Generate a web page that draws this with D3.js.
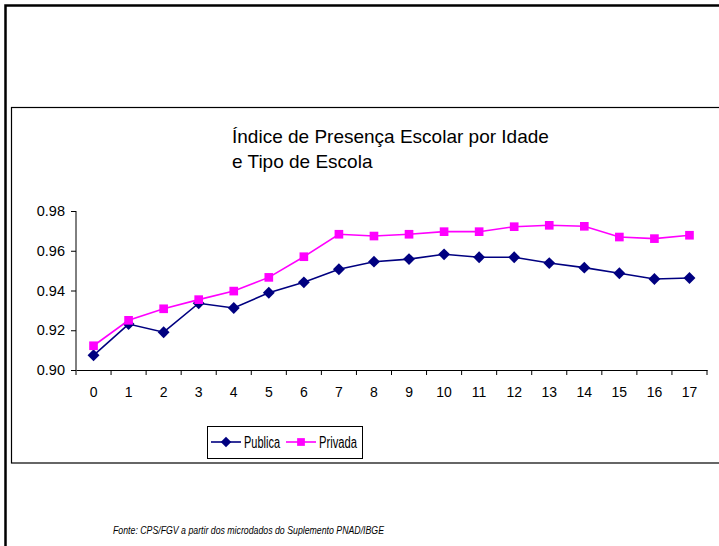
<!DOCTYPE html>
<html>
<head>
<meta charset="utf-8">
<script src="https://cdn.jsdelivr.net/npm/d3@7"></script>
<style>
  body { margin: 0; background: #fff; }
  svg { display: block; font-family: "Liberation Sans", Arial, sans-serif; }
</style>
</head>
<body>
<svg width="719" height="546"></svg>
<script>
// data
var idades = ["0","1","2","3","4","5","6","7","8","9","10","11","12","13","14","15","16","17"];
var publica = [0.9074, 0.9231, 0.9190, 0.9336, 0.9312, 0.9389, 0.9441, 0.9507, 0.9545, 0.9558,
               0.9582, 0.9567, 0.9567, 0.9538, 0.9515, 0.9487, 0.9458, 0.9463];
var privada = [0.9122, 0.9250, 0.9308, 0.9354, 0.9397, 0.9466, 0.9570, 0.9683, 0.9674, 0.9683,
               0.9696, 0.9696, 0.9721, 0.9728, 0.9723, 0.9669, 0.9661, 0.9678];
var yTicks = [0.90, 0.92, 0.94, 0.96, 0.98];

var series = [
    {name: "Publica", values: publica, color: "#000080", shape: d3.symbolDiamond2, len: 36},
    {name: "Privada", values: privada, color: "#FF00FF", shape: d3.symbolSquare, len: 38}
];

var svg = d3.select("svg");

// outer frame (runs off the page on right/bottom)
svg.append("rect")
    .attr("x", 5.5).attr("y", 5.5)
    .attr("width", 740).attr("height", 560)
    .attr("fill", "none").attr("stroke", "#000").attr("stroke-width", 2.5);

// chart box
svg.append("rect")
    .attr("x", 11.5).attr("y", 107.5)
    .attr("width", 730).attr("height", 355.5)
    .attr("fill", "#fff").attr("stroke", "#000").attr("stroke-width", 1.2);

var margin = {left: 76, top: 211, right: 12, bottom: 176};
var width = 707 - margin.left,
    height = 370 - margin.top;

var x = d3.scaleBand().domain(idades).range([0, width]);
var y = d3.scaleLinear().domain([0.90, 0.98]).range([height, 0]);

var chart = svg.append("g")
    .attr("transform", "translate(" + margin.left + "," + margin.top + ")");

// x axis
var xAxis = chart.append("g")
    .attr("transform", "translate(0," + height + ")")
    .call(d3.axisBottom(x).tickSize(0).tickPadding(17));
xAxis.select(".domain").attr("stroke", "#000").attr("stroke-width", 1);
xAxis.selectAll("text").style("font-size", "14px").attr("fill", "#000")
    .style("font-family", "'Liberation Sans', Arial, sans-serif");

// x ticks between categories
chart.append("g").selectAll("line")
    .data(idades.concat(["end"]))
    .enter().append("line")
    .attr("x1", function(d, i) { return i * x.step(); })
    .attr("x2", function(d, i) { return i * x.step(); })
    .attr("y1", height).attr("y2", height + 5)
    .attr("stroke", "#000");

// y axis
var yAxis = chart.append("g")
    .call(d3.axisLeft(y).tickValues(yTicks).tickFormat(d3.format(".2f")).tickSize(5).tickPadding(6));
yAxis.select(".domain").attr("stroke", "#000").attr("d", "M0," + height + "V0");
yAxis.selectAll("line").attr("stroke", "#000");
yAxis.selectAll("text").style("font-size", "14.5px").attr("fill", "#000")
    .style("font-family", "'Liberation Sans', Arial, sans-serif");

// lines and markers
var line = d3.line()
    .x(function(d, i) { return x(idades[i]) + x.bandwidth() / 2; })
    .y(function(d) { return y(d); });

series.forEach(function(s) {
    chart.append("path")
        .datum(s.values)
        .attr("fill", "none")
        .attr("stroke", s.color)
        .attr("stroke-width", 1.6)
        .attr("d", line);

    chart.selectAll(null)
        .data(s.values)
        .enter().append("path")
        .attr("transform", function(d, i) {
            return "translate(" + (x(idades[i]) + x.bandwidth() / 2) + "," + y(d) + ")";
        })
        .attr("d", d3.symbol().type(s.shape).size(s.name == "Publica" ? 90 : 75))
        .attr("fill", s.color);
});

// title
var title = svg.append("text")
    .attr("x", 232).attr("y", 143)
    .style("font-size", "19px").attr("fill", "#000");
title.append("tspan").attr("x", 232).text("Índice de Presença Escolar por Idade");
title.append("tspan").attr("x", 232).attr("dy", 25).text("e Tipo de Escola");

// legend
var legend = svg.append("g").attr("transform", "translate(207,426)");
legend.append("rect")
    .attr("x", 0.5).attr("y", 0.5).attr("width", 155).attr("height", 32)
    .attr("fill", "#fff").attr("stroke", "#000").attr("stroke-width", 1);

var legX = [4, 79];
series.forEach(function(s, i) {
    var g = legend.append("g").attr("transform", "translate(" + legX[i] + ",16)");
    g.append("line").attr("x1", 0).attr("x2", 30).attr("y1", 0).attr("y2", 0)
        .attr("stroke", s.color).attr("stroke-width", 1.6);
    g.append("path").attr("transform", "translate(15,0)")
        .attr("d", d3.symbol().type(s.shape).size(s.name == "Publica" ? 70 : 60))
        .attr("fill", s.color);
    g.append("text").attr("x", 33).attr("y", 6)
        .style("font-size", "16px")
        .attr("textLength", s.len).attr("lengthAdjust", "spacingAndGlyphs")
        .text(s.name);
});

// source
svg.append("text")
    .attr("x", 113).attr("y", 534)
    .style("font-size", "11px").style("font-style", "italic")
    .attr("textLength", 271).attr("lengthAdjust", "spacingAndGlyphs")
    .text("Fonte: CPS/FGV a partir dos microdados do Suplemento PNAD/IBGE");
</script>
</body>
</html>
